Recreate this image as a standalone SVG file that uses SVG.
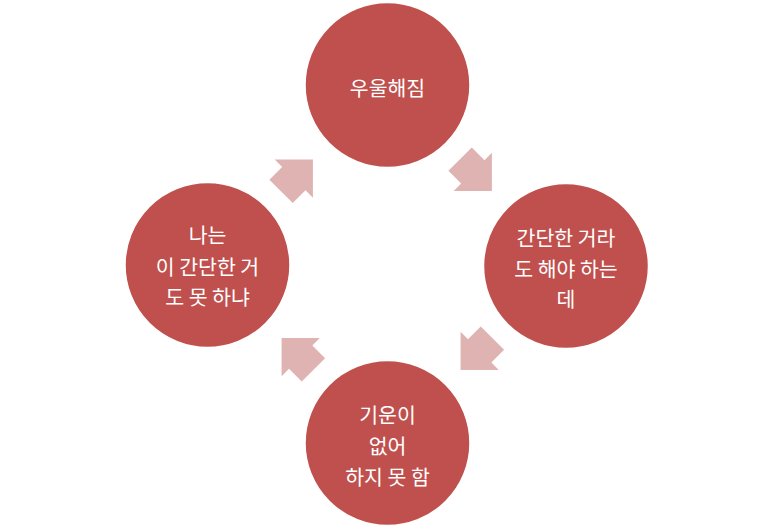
<svg xmlns="http://www.w3.org/2000/svg" width="773" height="529" viewBox="0 0 773 529">
<defs>
<style>
.node circle{fill:#C0504D;stroke:#ffffff;stroke-width:1.5}
.node text{fill:#ffffff;font-family:"Noto Sans CJK KR","Malgun Gothic",sans-serif;font-size:20.5px;text-anchor:middle}
.conn polygon{fill:#DFB3B2}
</style>
<polygon id="arr" points="-22.5,-16.5 -4.5,-16.5 -4.5,-27 22.5,0 -4.5,27 -4.5,16.5 -22.5,16.5"/>
</defs>
<rect width="773" height="529" fill="#ffffff"/>
<g id="connectors" class="conn">
<use href="#arr" fill="#DFB3B2" transform="translate(476,175) rotate(45)"/>
<use href="#arr" fill="#DFB3B2" transform="translate(476.5,354) rotate(135)"/>
<use href="#arr" fill="#DFB3B2" transform="translate(297.5,354) rotate(225)"/>
<use href="#arr" fill="#DFB3B2" transform="translate(297,175.5) rotate(-45)"/>
</g>
<g id="node-top" class="node">
<circle cx="387.5" cy="85" r="82.5"/>
<text x="387.5" y="95.5">우울해짐</text>
</g>
<g id="node-right" class="node">
<circle cx="566" cy="266" r="82.5"/>
<text x="566" y="245.5">간단한 거라</text>
<text x="566" y="276.5">도 해야 하는</text>
<text x="566" y="306.5">데</text>
</g>
<g id="node-bottom" class="node">
<circle cx="387.5" cy="443" r="82.5"/>
<text x="387.5" y="422.5">기운이</text>
<text x="387.5" y="453.5">없어</text>
<text x="387.5" y="484.5">하지 못 함</text>
</g>
<g id="node-left" class="node">
<circle cx="207.5" cy="265" r="82.5"/>
<text x="207.5" y="242.5">나는</text>
<text x="207.5" y="274.5">이 간단한 거</text>
<text x="207.5" y="304.5">도 못 하냐</text>
</g>
</svg>
